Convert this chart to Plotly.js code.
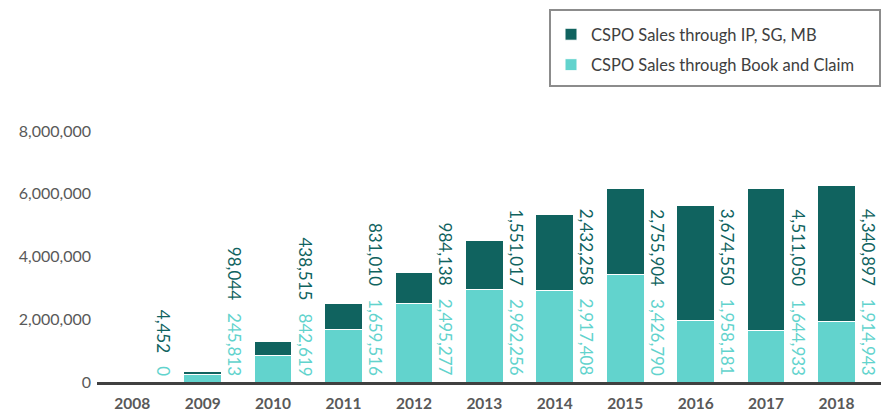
<!DOCTYPE html>
<html>
<head>
<meta charset="utf-8">
<script src="https://cdn.plot.ly/plotly-3.0.1.min.js"></script>
<style>html,body{margin:0;padding:0;background:#fff;}#chart{width:885px;height:412px;}</style>
</head>
<body>
<div id="chart"></div>
<script>
const years = ["2008","2009","2010","2011","2012","2013","2014","2015","2016","2017","2018"];
const bookAndClaim = [0, 245813, 842619, 1659516, 2495277, 2962256, 2917408, 3426790, 1958181, 1644933, 1914943];
const ipSgMb = [4452, 98044, 438515, 831010, 984138, 1551017, 2432258, 2755904, 3674550, 4511050, 4340897];
const yTicks = [0, 2000000, 4000000, 6000000, 8000000];
const seriesNames = ["CSPO Sales through Book and Claim", "CSPO Sales through IP, SG, MB"];

const DARK = "#10635F";
const LIGHT = "#62D3CD";
const fmt = v => v.toLocaleString("en-US");

const traces = [
  {type:"bar", name:seriesNames[0], legendgroup:"bc", legendrank:2, x:years, y:bookAndClaim, marker:{color:LIGHT, line:{color:"#ffffff", width:1}}, hoverinfo:"skip"},
  {type:"bar", name:seriesNames[1], legendgroup:"ip", legendrank:1, x:years, y:ipSgMb, marker:{color:DARK, line:{color:"#ffffff", width:1}}, hoverinfo:"skip"}
];

// category index positions (annotation x on a category axis of numeric-looking strings)
const annotations = years.map((yr, i) => ({
  x: i, y: 0, xref:"x", yref:"y",
  text: `<span style="color:${DARK}">${fmt(ipSgMb[i])}</span>\u00a0\u00a0\u00a0<span style="color:${LIGHT}">${fmt(bookAndClaim[i])}</span>`,
  textangle: 90, showarrow:false,
  xanchor:"center", yanchor:"bottom",
  xshift: 32, yshift: 4,
  font:{family:"Lato, sans-serif", size:17}
}));

const PL = 97, PT = 131, PW = 784, PH = 251;
const px = v => (v - PL) / PW;
const py = v => (PT + PH - v) / PH;

const layout = {
  width:885, height:412,
  margin:{l:PL, r:885-PL-PW, t:PT, b:412-PT-PH, autoexpand:false},
  paper_bgcolor:"#ffffff", plot_bgcolor:"#ffffff",
  barmode:"stack", bargap:0.466,
  font:{family:"Lato, sans-serif", color:"#595959"},
  xaxis:{type:"category", showgrid:false, zeroline:false, showline:true, linecolor:"#404040", linewidth:3,
         ticks:"", ticklabelstandoff:5, tickfont:{family:"Lato, sans-serif", size:15.5, color:"#595959", weight:"bold"}},
  yaxis:{range:[0,8000000], tickvals:yTicks, ticktext:yTicks.map(fmt), showgrid:false, zeroline:false, showline:false,
         ticks:"", ticklabelstandoff:5, tickfont:{family:"Lato, sans-serif", size:16, color:"#595959"}},
  showlegend:true,
  legend:{x:px(551), y:py(17), xanchor:"left", yanchor:"top",
          traceorder:"grouped", borderwidth:0, bgcolor:"rgba(0,0,0,0)",
          font:{family:"Lato, sans-serif", size:16.5, color:"#404040"}, tracegroupgap:6},
  shapes:[{type:"rect", xref:"paper", yref:"paper", x0:px(550), x1:px(880), y0:py(86), y1:py(10),
           line:{color:"#8c8c8c", width:2}, fillcolor:"rgba(0,0,0,0)", layer:"below"}],
  annotations: annotations
};

Plotly.newPlot("chart", traces, layout, {displayModeBar:false, staticPlot:true});
</script>
</body>
</html>
